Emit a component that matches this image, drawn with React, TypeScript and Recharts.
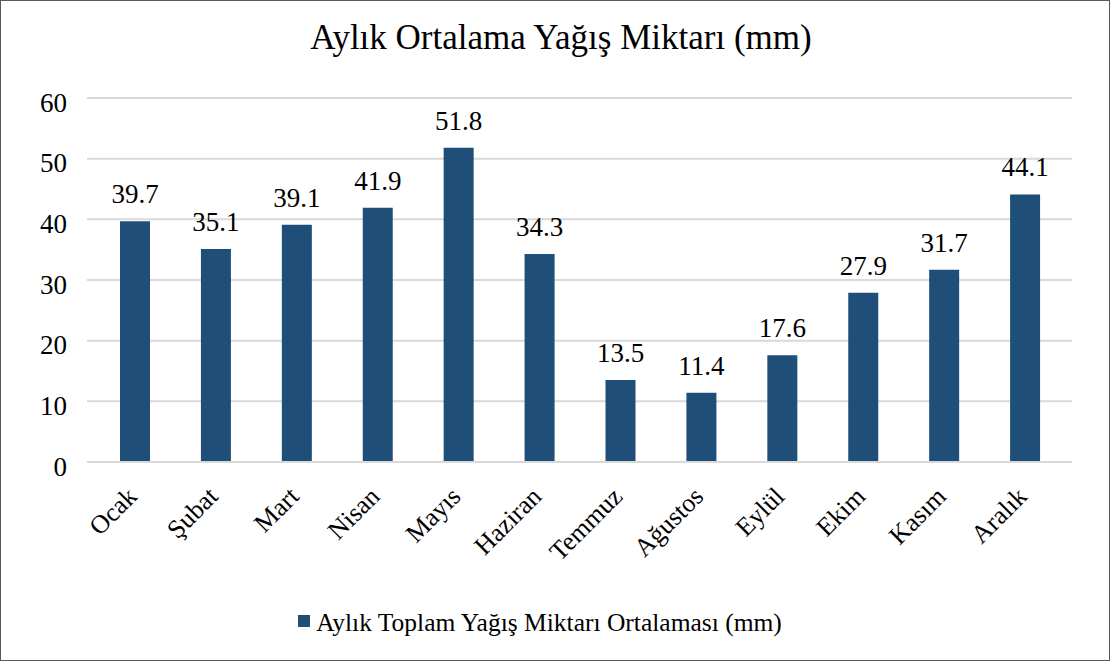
import React from "react";
import { BarChart, Bar, XAxis, YAxis, CartesianGrid, LabelList, Legend } from "recharts";

const months = ["Ocak", "Şubat", "Mart", "Nisan", "Mayıs", "Haziran", "Temmuz", "Ağustos", "Eylül", "Ekim", "Kasım", "Aralık"];
const values = [39.7, 35.1, 39.1, 41.9, 51.8, 34.3, 13.5, 11.4, 17.6, 27.9, 31.7, 44.1];
const yTicks = [0, 10, 20, 30, 40, 50, 60];
const seriesName = "Aylık Toplam Yağış Miktarı Ortalaması (mm)";
const title = "Aylık Ortalama Yağış Miktarı (mm)";

const data = months.map((m, i) => ({ month: m, value: values[i] }));

const FONT = "'Liberation Serif', 'Times New Roman', serif";
const BAR_COLOR = "#1F4E79";

const XTick = (props: any) => {
  const { x, y, payload } = props;
  const bx = x + 3;
  const by = y + 28;
  return (
    <text
      x={bx}
      y={by}
      transform={`rotate(-45, ${bx}, ${by})`}
      textAnchor="end"
      fontFamily={FONT}
      fontSize={26}
      fill="#000"
    >
      {payload.value}
    </text>
  );
};

const LegendContent = () => (
  <div style={{ display: "flex", justifyContent: "center", alignItems: "center", fontFamily: FONT, fontSize: 25.5, lineHeight: "30px", color: "#000", paddingTop: 15, paddingLeft: 8 }}>
    <span style={{ display: "inline-block", width: 12, height: 12, background: BAR_COLOR, marginRight: 6, marginTop: -4 }} />
    <span>{seriesName}</span>
  </div>
);

export default function App() {
  return (
    <div style={{ position: "fixed", left: 0, top: 0, width: 1110, height: 661, background: "#fff" }}>
      <div style={{ position: "absolute", left: 0, top: 0, width: 1108, height: 659, border: "1px solid #595959" }} />
      <div style={{ position: "absolute", left: 0, top: 18, width: 1122, textAlign: "center", fontFamily: FONT, fontSize: 35, lineHeight: "40px", color: "#000" }}>
        {title}
      </div>
      <div style={{ position: "absolute", left: 0, top: 0 }}>
        <BarChart width={1110} height={661} data={data} margin={{ top: 98, right: 38, left: 0, bottom: 0 }}>
          <CartesianGrid vertical={false} stroke="#D9D9D9" strokeWidth={2} />
          <XAxis
            dataKey="month"
            tick={<XTick />}
            tickLine={false}
            axisLine={{ stroke: "#D9D9D9", strokeWidth: 2 }}
            height={131}
            interval={0}
            padding={{ left: 8, right: 6 }}
          />
          <YAxis
            domain={[0, 60]}
            ticks={yTicks}
            width={87}
            tickLine={false}
            axisLine={false}
            tick={{ fontFamily: FONT, fontSize: 27, fill: "#000", dy: 4 }}
            tickMargin={14}
          />
          <Legend verticalAlign="bottom" height={68} content={<LegendContent />} />
          <Bar dataKey="value" name={seriesName} fill={BAR_COLOR} barSize={30} isAnimationActive={false}>
            <LabelList dataKey="value" position="top" offset={18} style={{ fontFamily: FONT, fontSize: 27, fill: "#000" }} />
          </Bar>
        </BarChart>
      </div>
    </div>
  );
}
